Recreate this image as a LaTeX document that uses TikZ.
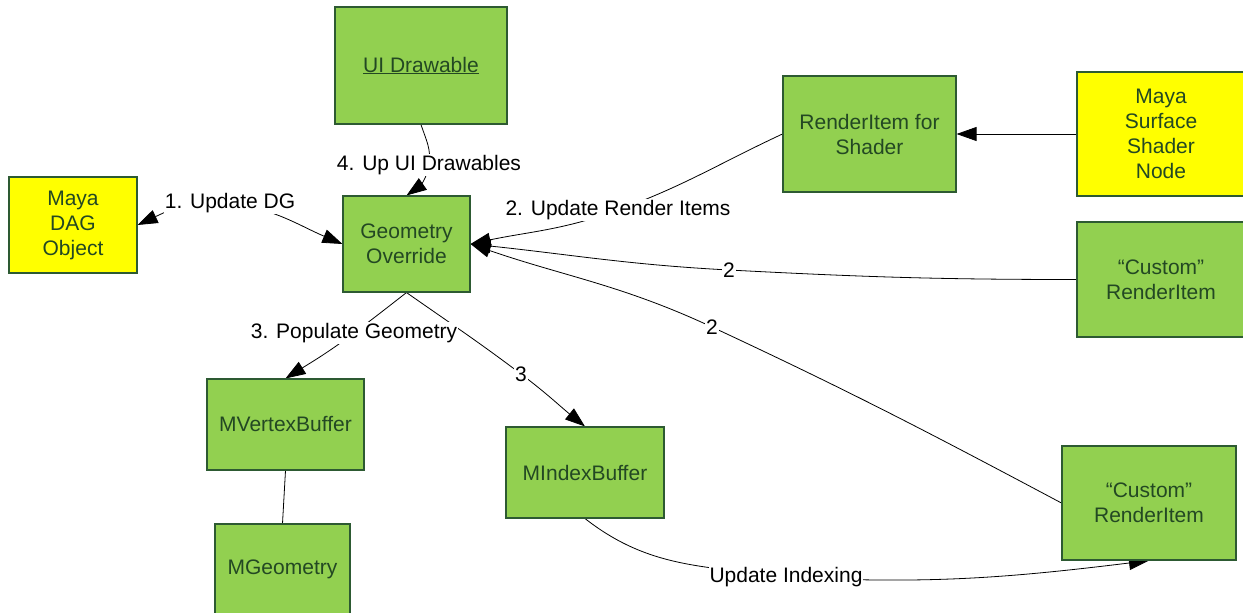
\documentclass[tikz,border=0pt]{standalone}
\usepackage{fontspec}
\setmainfont{Liberation Sans}
\usetikzlibrary{arrows.meta}
\pgfdeclarelayer{bg}
\pgfsetlayers{bg,main}
\definecolor{boxgreen}{RGB}{146,208,80}
\definecolor{boxyellow}{RGB}{255,255,0}
\definecolor{boxtext}{RGB}{35,72,35}
\definecolor{boxline}{RGB}{45,90,50}
\begin{document}
\begin{tikzpicture}[x=1pt,y=1pt,
 box/.style={draw=boxline, line width=1.1pt, fill=boxgreen, text=boxtext, align=center, inner sep=0pt, font=\fontsize{21}{25}\selectfont},
 ybox/.style={box, fill=boxyellow},
 lbl/.style={fill=white, inner sep=1pt, font=\fontsize{21}{25}\selectfont},
 tip/.tip={Triangle[length=20pt,width=14pt]},
 arr/.style={-tip, line width=0.8pt},
 darr/.style={tip-tip, line width=0.8pt},
 wire/.style={line width=0.8pt}]
\useasboundingbox (0,0) rectangle (1243,-613);
% boxes
\node[box, minimum width=172pt, minimum height=117pt] (ui) at (421,-65.5) {\underline{UI Drawable}};
\node[box, minimum width=173pt, minimum height=116pt] (ri) at (869.5,-134) {RenderItem for\\Shader};
\node[ybox, minimum width=168pt, minimum height=124pt] (mss) at (1161,-134) {Maya\\Surface\\Shader\\Node};
\node[ybox, minimum width=128pt, minimum height=96pt] (dag) at (73,-225) {Maya\\DAG\\Object};
\node[box, minimum width=127pt, minimum height=96pt] (go) at (406.5,-244) {Geometry\\Override};
\node[box, minimum width=168pt, minimum height=115pt] (c1) at (1161,-279.5) {“Custom”\\RenderItem};
\node[box, minimum width=157pt, minimum height=91pt] (mvb) at (285.5,-424.5) {MVertexBuffer};
\node[box, minimum width=158pt, minimum height=91pt] (mib) at (585,-472.5) {MIndexBuffer};
\node[box, minimum width=135pt, minimum height=90pt] (mgeo) at (282.5,-569) {MGeometry};
\node[box, minimum width=174pt, minimum height=114pt] (c2) at (1149,-503) {“Custom”\\RenderItem};
% labels
\node[lbl] (l1) at (230,-203) {1. Update DG};
\node[lbl] (l4) at (429,-165) {4. Up UI Drawables};
\node[lbl] (l2) at (618,-210) {2. Update Render Items};
\node[lbl] (l5) at (729,-270) {2};
\node[lbl] (l6) at (712,-327) {2};
\node[lbl] (l7) at (354,-333) {3. Populate Geometry};
\node[lbl] (l8) at (521,-374) {3};
\node[lbl] (l10) at (786,-577) {Update Indexing};
% connectors
\begin{pgfonlayer}{bg}
\draw[darr] (go.west) to[out=157,in=-8] (l1.center) to[out=172,in=25] (dag.east);
\draw[arr] (ui.south) to[out=-72,in=81] (l4.center) to[out=-99,in=35] (go.north);
\draw[arr] (ri.west) to[out=205,in=20] (l2.center) to[out=200,in=12] (go.east);
\draw[arr] (mss.west) -- (ri.east);
\draw[arr] (c1.west) to[out=180,in=-3] (l5.center) to[out=177,in=-6] (go.east);
\draw[arr] (c2.west) to[out=152,in=-25] (l6.center) to[out=155,in=-19] (go.east);
\draw[arr] (go.south) to[out=-142,in=37] (l7.center) to[out=-143,in=32] (mvb.north);
\draw[arr] (go.south) to[out=-35,in=143] (l8.center) to[out=-37,in=141] (mib.north);
\draw[wire] (mvb.south) -- (mgeo.north);
\draw[arr] (mib.south) to[out=-38,in=172] (l10.center) to[out=-3,in=187] (c2.south);
\end{pgfonlayer}
\end{tikzpicture}
\end{document}
